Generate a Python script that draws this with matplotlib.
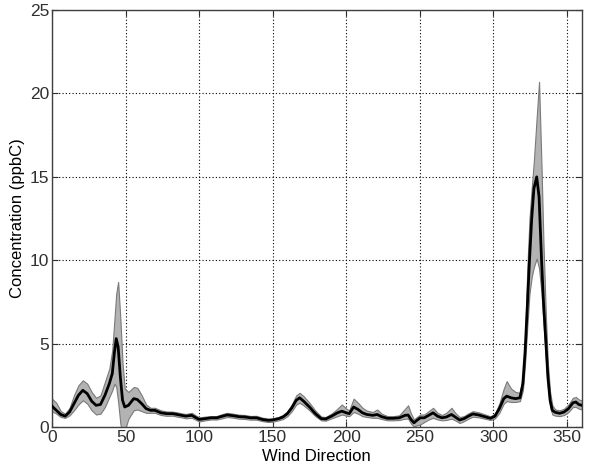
import numpy as np
import matplotlib
matplotlib.use("Agg")
import matplotlib.pyplot as plt

# wind direction (deg), mean concentration and band limits (ppbC)
direction = [0, 3, 6, 9, 12, 15, 18, 21, 24, 27, 30, 33, 36, 39, 41, 42.5, 43.7, 45, 46.5, 48,
             49.5, 52, 55.6, 58, 61, 64, 67, 70, 74, 78, 82, 85, 88, 91, 95, 98, 100, 104, 108,
             112, 116, 119, 123, 127, 131, 135, 139, 143, 147, 150, 154, 157, 160, 163, 166,
             168.3, 171, 175, 179, 183, 186, 190, 194, 197, 200, 202, 205, 208, 211, 214, 218,
             221, 224, 228, 232, 236, 240, 242, 244, 246, 248, 250.3, 253, 256, 259, 262, 265,
             268, 271.5, 274, 277, 280, 283, 286, 290, 294, 298, 301, 304, 307, 309, 312, 315,
             318, 320, 321.5, 323, 324.5, 326, 327.5, 329.4, 331, 332.7, 334, 335.7, 337, 338.5,
             340, 342, 345, 348, 351, 354, 356, 358, 360]
mean_conc = [1.25, 1.0, 0.75, 0.65, 0.9, 1.4, 1.9, 2.2, 2.0, 1.55, 1.3, 1.35, 1.9, 2.6, 3.2, 4.5,
             5.3, 4.8, 3.0, 1.6, 1.2, 1.3, 1.7, 1.65, 1.4, 1.1, 1.0, 1.0, 0.85, 0.8, 0.8, 0.75,
             0.7, 0.65, 0.7, 0.55, 0.45, 0.5, 0.55, 0.55, 0.65, 0.72, 0.68, 0.62, 0.6, 0.55, 0.55,
             0.45, 0.4, 0.42, 0.5, 0.6, 0.8, 1.15, 1.6, 1.75, 1.55, 1.2, 0.8, 0.5, 0.48, 0.65,
             0.85, 0.95, 0.85, 0.8, 1.2, 1.05, 0.85, 0.75, 0.7, 0.75, 0.62, 0.52, 0.52, 0.55, 0.7,
             0.72, 0.45, 0.25, 0.4, 0.55, 0.55, 0.7, 0.85, 0.65, 0.55, 0.6, 0.75, 0.6, 0.42, 0.5,
             0.65, 0.78, 0.72, 0.62, 0.52, 0.65, 1.1, 1.7, 1.85, 1.75, 1.7, 1.75, 2.6, 4.5, 7.2,
             10.0, 12.5, 14.3, 15.0, 13.8, 10.0, 7.5, 5.0, 3.0, 1.6, 1.0, 0.88, 0.82, 0.9, 1.1,
             1.45, 1.5, 1.35, 1.3]
lower_conc = [0.95, 0.8, 0.6, 0.55, 0.7, 1.0, 1.35, 1.6, 1.4, 1.0, 0.75, 0.8, 1.2, 1.8, 2.2, 2.6,
              2.4, 1.5, 0.2, -0.5, -0.2, 0.5, 1.0, 1.05, 0.95, 0.85, 0.85, 0.85, 0.72, 0.67, 0.68,
              0.62, 0.58, 0.52, 0.55, 0.42, 0.33, 0.4, 0.45, 0.45, 0.53, 0.6, 0.56, 0.5, 0.48,
              0.44, 0.44, 0.35, 0.3, 0.32, 0.4, 0.48, 0.65, 0.95, 1.35, 1.45, 1.3, 1.0, 0.65, 0.4,
              0.38, 0.52, 0.65, 0.75, 0.68, 0.65, 0.9, 0.8, 0.65, 0.6, 0.55, 0.55, 0.48, 0.4, 0.4,
              0.42, 0.5, 0.5, 0.2, 0.03, 0.1, 0.15, 0.3, 0.45, 0.55, 0.45, 0.4, 0.42, 0.5, 0.4,
              0.24, 0.35, 0.5, 0.62, 0.58, 0.5, 0.42, 0.52, 0.85, 1.4, 1.55, 1.5, 1.5, 1.55, 2.2,
              3.8, 6.0, 8.0, 9.0, 9.6, 10.1, 9.5, 8.0, 6.2, 4.0, 2.4, 1.2, 0.75, 0.68, 0.65, 0.72,
              0.9, 1.2, 1.2, 1.1, 1.05]
upper_conc = [1.7, 1.45, 0.95, 0.8, 1.15, 1.9, 2.5, 2.8, 2.6, 2.1, 1.75, 1.9, 2.7, 3.5, 4.6, 6.5,
              8.0, 8.7, 6.5, 3.8, 2.3, 2.1, 2.4, 2.35, 1.9, 1.35, 1.15, 1.15, 1.0, 0.93, 0.92, 0.88,
              0.82, 0.78, 0.85, 0.68, 0.58, 0.62, 0.65, 0.66, 0.78, 0.85, 0.8, 0.74, 0.72, 0.66,
              0.67, 0.56, 0.5, 0.52, 0.6, 0.72, 0.95, 1.35, 1.9, 2.05, 1.85, 1.45, 0.98, 0.62, 0.6,
              0.8, 1.1, 1.35, 1.1, 1.0, 1.7, 1.45, 1.15, 0.98, 0.9, 1.05, 0.8, 0.65, 0.65, 0.7,
              1.1, 1.3, 0.8, 0.45, 0.6, 0.75, 0.75, 0.95, 1.15, 0.85, 0.72, 0.85, 1.15, 0.85, 0.6,
              0.65, 0.82, 0.95, 0.88, 0.76, 0.64, 0.8, 1.4, 2.3, 2.75, 2.3, 2.1, 2.05, 3.1, 5.2,
              9.5, 12.5, 14.3, 16.0, 18.6, 20.7, 15.5, 11.0, 6.5, 3.8, 2.1, 1.3, 1.05, 1.0, 1.1,
              1.35, 1.75, 1.8, 1.65, 1.6]

xticks = [0, 50, 100, 150, 200, 250, 300, 350]
yticks = [0, 5, 10, 15, 20, 25]

plt.rcParams['font.family'] = ['Liberation Sans', 'DejaVu Sans']

fig = plt.figure(figsize=(5.9, 4.7), dpi=100)
ax = fig.add_axes([0.088, 0.0915, 0.898, 0.887])

ax.fill_between(direction, lower_conc, upper_conc, facecolor='#b3b3b3',
                edgecolor='#7a7a7a', linewidth=0.8, zorder=2)
ax.plot(direction, mean_conc, color='black', linewidth=2.0, zorder=3)

ax.set_xlim(0, 360)
ax.set_ylim(0, 25)
ax.set_xticks(xticks)
ax.set_yticks(yticks)
ax.set_axisbelow(True)
ax.grid(True, color='black', linestyle=(0, (1, 2)), linewidth=0.8)
ax.tick_params(direction='in', top=True, right=True, labelsize=12.5, length=4,
               pad=2, colors='#303030')
for s in ax.spines.values():
    s.set_color('#404040')
    s.set_linewidth(1.0)

ax.set_xlabel('Wind Direction', fontsize=12, labelpad=3)
ax.set_ylabel('Concentration (ppbC)', fontsize=12, labelpad=3)

fig.savefig('out.png', dpi=100)
